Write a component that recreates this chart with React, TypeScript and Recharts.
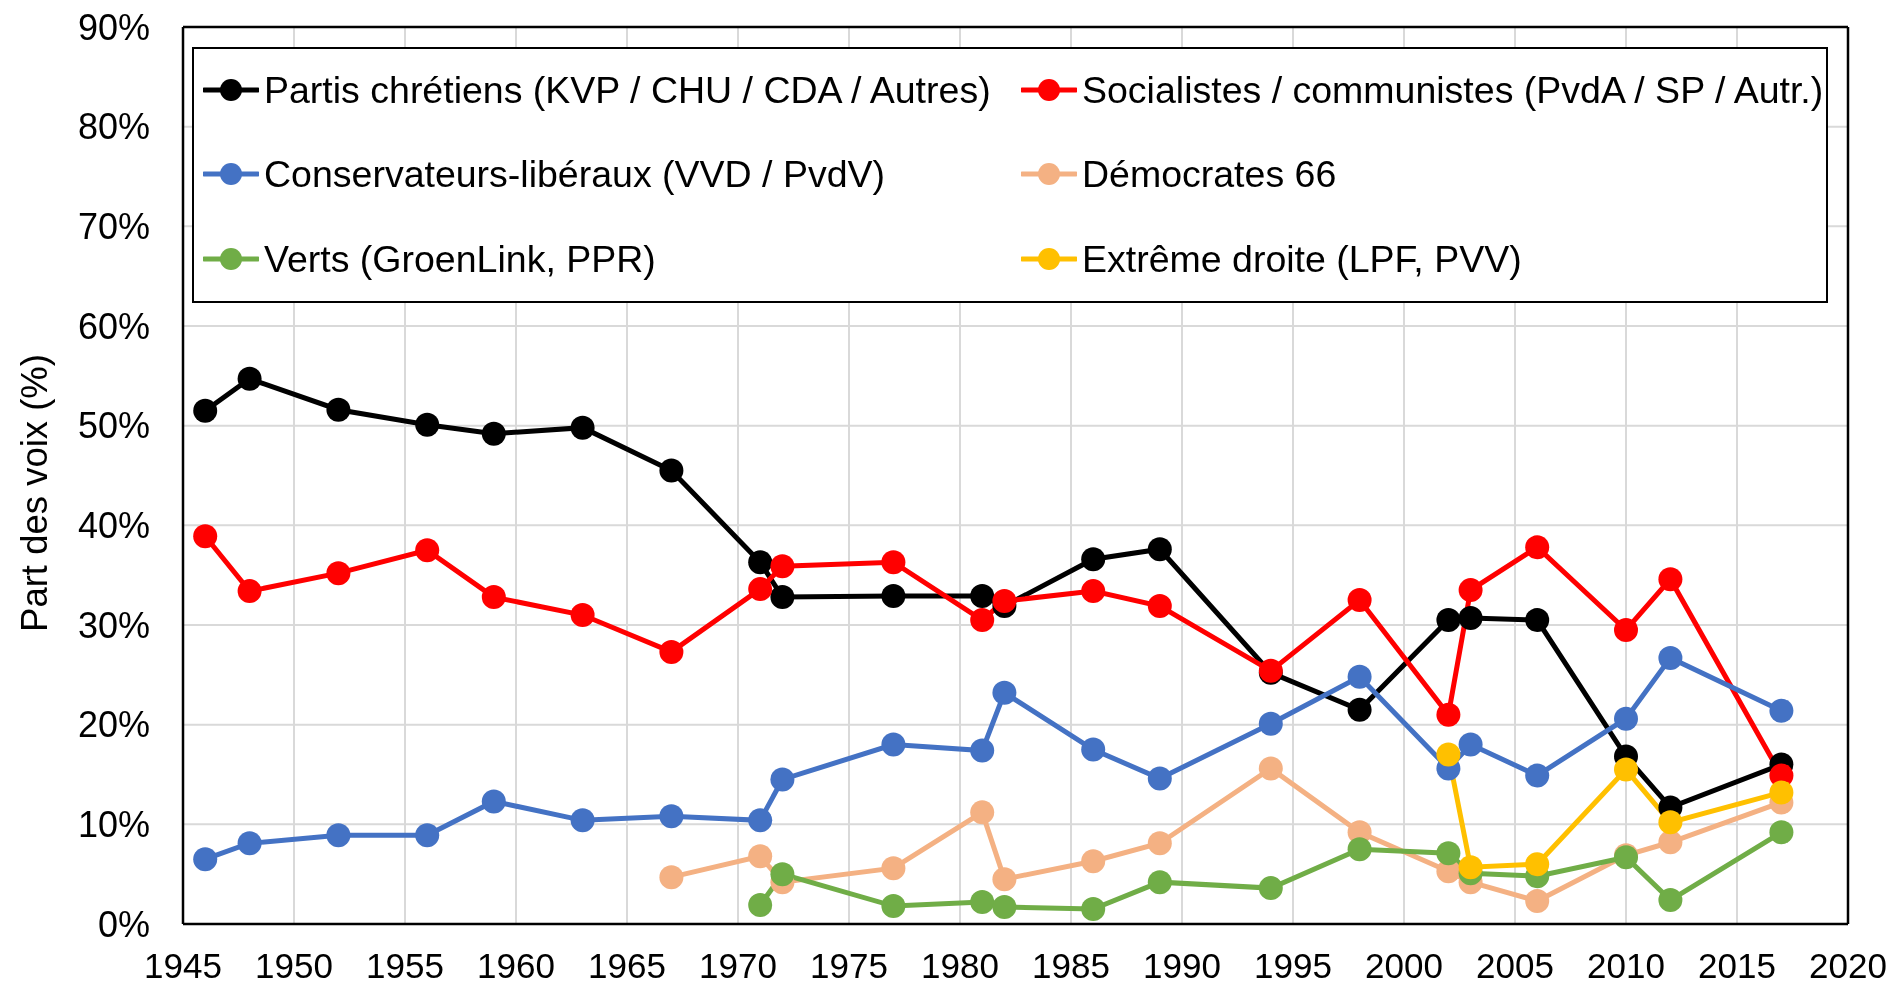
import React from "react";
import {
  LineChart,
  Line,
  XAxis,
  YAxis,
  CartesianGrid,
  Legend,
  ReferenceLine,
} from "recharts";

const years = [1946, 1948, 1952, 1956, 1959, 1963, 1967, 1971, 1972, 1977, 1981, 1982, 1986, 1989, 1994, 1998, 2002, 2003, 2006, 2010, 2012, 2017];
const christian = [51.5, 54.7, 51.6, 50.1, 49.2, 49.8, 45.5, 36.3, 32.8, 32.9, 32.9, 31.9, 36.6, 37.6, 25.2, 21.5, 30.5, 30.7, 30.5, 16.8, 11.7, 16.0];
const socialists = [38.9, 33.4, 35.2, 37.5, 32.8, 31.0, 27.3, 33.6, 35.9, 36.3, 30.5, 32.4, 33.4, 31.9, 25.4, 32.5, 21.0, 33.5, 37.8, 29.5, 34.6, 14.9];
const liberals = [6.5, 8.1, 8.9, 8.9, 12.3, 10.4, 10.8, 10.4, 14.5, 18.0, 17.4, 23.2, 17.5, 14.6, 20.1, 24.8, 15.6, 18.0, 14.9, 20.6, 26.7, 21.4];
const d66 = [null, null, null, null, null, null, 4.7, 6.8, 4.2, 5.6, 11.2, 4.5, 6.3, 8.1, 15.6, 9.2, 5.3, 4.2, 2.3, 6.9, 8.2, 12.2];
const greens = [null, null, null, null, null, null, null, 1.9, 5.0, 1.8, 2.2, 1.7, 1.5, 4.2, 3.6, 7.5, 7.1, 5.1, 4.8, 6.7, 2.4, 9.2];
const extreme = [null, null, null, null, null, null, null, null, null, null, null, null, null, null, null, null, 17.0, 5.7, 6.0, 15.5, 10.2, 13.2];

const xTicks = [1945, 1950, 1955, 1960, 1965, 1970, 1975, 1980, 1985, 1990, 1995, 2000, 2005, 2010, 2015, 2020];
const yTicks = [0, 10, 20, 30, 40, 50, 60, 70, 80, 90];

const series = [
  { key: "christian", name: "Partis chrétiens (KVP / CHU / CDA / Autres)", color: "#000000", values: christian },
  { key: "socialists", name: "Socialistes / communistes (PvdA / SP / Autr.)", color: "#FF0000", values: socialists },
  { key: "liberals", name: "Conservateurs-libéraux (VVD / PvdV)", color: "#4472C4", values: liberals },
  { key: "d66", name: "Démocrates 66", color: "#F4B183", values: d66 },
  { key: "greens", name: "Verts (GroenLink, PPR)", color: "#70AD47", values: greens },
  { key: "extreme", name: "Extrême droite (LPF, PVV)", color: "#FFC000", values: extreme },
];

const data = years.map((year, i) => {
  const row: Record<string, number | null> = { year };
  series.forEach((s) => {
    row[s.key] = s.values[i] as number | null;
  });
  return row;
});

const FONT = "'Liberation Sans', Arial, sans-serif";
const XFS = 35;
const YFS = 36;
const LFS = 37.5;

const LegendContent = () => {
  const rowsY = [43, 127, 212];
  const colsX = [11, 829];
  return (
    <div
      style={{
        position: "relative",
        width: 1636,
        height: 256,
        border: "2px solid #000",
        background: "#fff",
        boxSizing: "border-box",
        fontFamily: FONT,
        fontSize: LFS,
        color: "#000",
      }}
    >
      {series.map((s, i) => {
        const col = i % 2;
        const row = Math.floor(i / 2);
        return (
          <div
            key={s.key}
            style={{
              position: "absolute",
              left: colsX[col] - 2,
              top: rowsY[row] - 2 - 25,
              height: 50,
              display: "flex",
              alignItems: "center",
              whiteSpace: "nowrap",
            }}
          >
            <svg width={56} height={26} style={{ marginRight: 5 }}>
              <line x1={1} y1={13} x2={55} y2={13} stroke={s.color} strokeWidth={5} strokeLinecap="round" />
              <circle cx={28} cy={13} r={11} fill={s.color} />
            </svg>
            <span>{s.name}</span>
          </div>
        );
      })}
    </div>
  );
};

export default function App() {
  return (
    <div style={{ position: "fixed", left: 8, top: 8, width: 1878, height: 978 }}>
      <LineChart
        width={1878}
        height={978}
        data={data}
        margin={{ top: 19, right: 38, left: 75, bottom: 0 }}
        style={{ fontFamily: FONT }}
      >
        <CartesianGrid stroke="#d9d9d9" strokeWidth={2} />
        <XAxis
          dataKey="year"
          type="number"
          domain={[1945, 2020]}
          ticks={xTicks}
          interval={0}
          height={62}
          tickSize={0}
          tickMargin={29}
          axisLine={{ stroke: "#000", strokeWidth: 2.5 }}
          tick={{ fill: "#000", fontSize: XFS }}
        />
        <YAxis
          type="number"
          domain={[0, 90]}
          ticks={yTicks}
          interval={0}
          width={100}
          tickSize={0}
          tickMargin={33}
          tickFormatter={(v: number) => `${v}%`}
          axisLine={{ stroke: "#000", strokeWidth: 2.5 }}
          tick={{ fill: "#000", fontSize: YFS }}
          label={() => (
            <text
              x={26}
              y={485}
              transform="rotate(-90, 26, 485)"
              textAnchor="middle"
              dominantBaseline="central"
              fontSize={36.5}
              fill="#000"
              fontFamily={FONT}
            >
              Part des voix (%)
            </text>
          )}
        />
        <ReferenceLine y={90} stroke="#000" strokeWidth={2.5} />
        <ReferenceLine x={2020} stroke="#000" strokeWidth={2.5} />
        {series.map((s) => (
          <Line
            key={s.key}
            dataKey={s.key}
            name={s.name}
            stroke={s.color}
            strokeWidth={5}
            dot={{ r: 12, fill: s.color, stroke: s.color, strokeWidth: 0 }}
            activeDot={false}
            isAnimationActive={false}
          />
        ))}
        <Legend
          layout="horizontal"
          verticalAlign="middle"
          align="center"
          content={() => <LegendContent />}
          wrapperStyle={{ position: "absolute", left: 184, top: 39, width: 1636, height: 256 }}
        />
      </LineChart>
    </div>
  );
}
